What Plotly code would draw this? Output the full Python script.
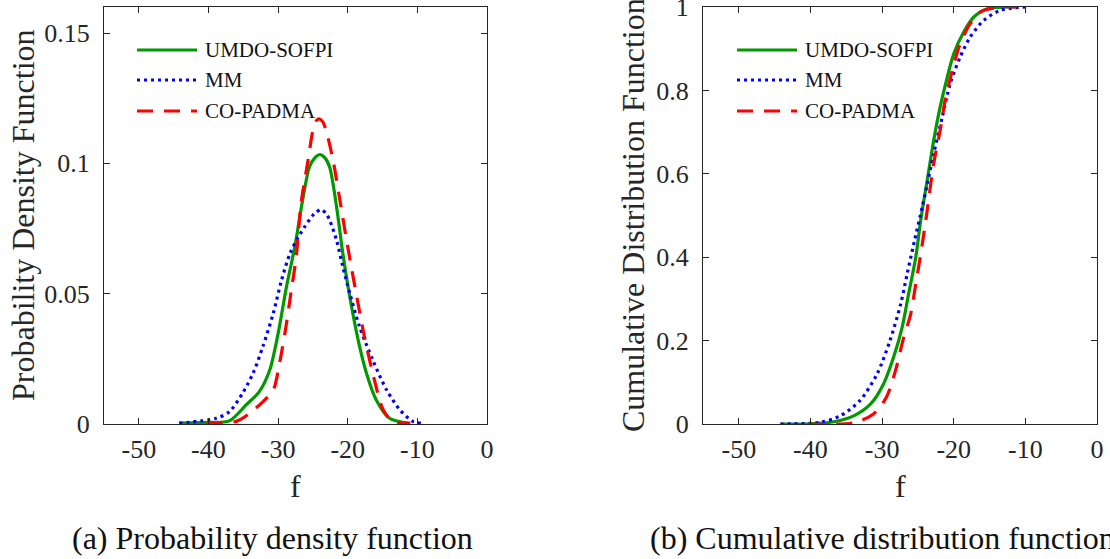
import plotly.graph_objects as go

# ---- probability density estimates ----
pdf_f_umdo = [-44.2, -40.0, -37.0, -34.6, -32.7, -31.2, -30.0, -28.8, -27.6, -26.4, -25.5, -24.7,
              -24.0, -23.3, -22.6, -21.6, -20.7, -19.7, -18.5, -17.3, -15.9, -14.0, -11.1]
pdf_umdo = [0.0003, 0.0006, 0.0012, 0.0073, 0.0124, 0.0207, 0.0347, 0.0526, 0.068, 0.0871, 0.0986, 0.1022,
            0.1034, 0.1022, 0.0986, 0.0833, 0.0654, 0.0488, 0.0322, 0.0194, 0.0092, 0.0022, 0.0003]

pdf_f_mm = [-44.2, -38.9, -37.0, -35.1, -33.6, -32.2, -30.7, -29.5, -28.3, -27.1, -26.2, -25.0, -24.5,
            -23.8, -23.1, -22.6, -21.6, -20.7, -19.7, -18.3, -16.4, -14.4, -12.5, -10.6, -9.4]
pdf_mm = [0.0003, 0.0022, 0.0047, 0.0118, 0.0194, 0.0296, 0.0424, 0.0552, 0.0654, 0.0718, 0.0756, 0.0801, 0.0813,
          0.0823, 0.0807, 0.0782, 0.0705, 0.0603, 0.0501, 0.0373, 0.0245, 0.013, 0.0054, 0.0009, 0.0003]

pdf_f_co = [-40.3, -36.0, -34.1, -32.2, -30.7, -29.8, -28.8, -28.1, -27.4, -26.7, -25.7, -25.0, -24.5,
            -24.1, -23.6, -23.1, -22.1, -21.2, -20.0, -18.7, -17.6, -16.4, -14.9, -13.5, -11.0]
pdf_co = [0.0003, 0.001, 0.0041, 0.0085, 0.013, 0.0232, 0.0386, 0.0513, 0.0641, 0.0846, 0.1011, 0.1126, 0.1164,
          0.1171, 0.116, 0.1126, 0.1011, 0.0871, 0.068, 0.0488, 0.0335, 0.0194, 0.0054, 0.001, 0.0003]

# ---- cumulative distribution estimates ----
cdf_f_umdo = [-44.2, -40.0, -36.7, -33.9, -31.6, -29.8, -28.4, -27.2, -26.3, -25.3, -24.6,
              -23.7, -22.8, -21.9, -20.9, -20.0, -18.6, -17.2, -15.3, -12.6, -11.2]
cdf_umdo = [0.0, 0.0005, 0.0055, 0.02, 0.048, 0.096, 0.16, 0.232, 0.312, 0.40, 0.49,
            0.584, 0.68, 0.76, 0.832, 0.888, 0.94, 0.976, 0.996, 1.0, 1.0]

cdf_f_mm = [-44.2, -38.6, -35.8, -33.1, -30.7, -28.9, -27.4, -26.5, -25.6, -24.4, -23.7,
            -22.8, -21.6, -20.5, -19.1, -17.7, -15.8, -13.5, -10.0]
cdf_mm = [0.0, 0.004, 0.02, 0.056, 0.12, 0.2, 0.288, 0.36, 0.43, 0.52, 0.575,
          0.648, 0.736, 0.816, 0.88, 0.928, 0.968, 0.992, 1.0]

cdf_f_co = [-40.2, -33.9, -31.2, -29.4, -28.0, -27.1, -26.0, -25.3, -24.6, -23.9, -22.8,
            -21.9, -21.2, -20.2, -19.1, -17.7, -16.3, -13.5, -11.2]
cdf_co = [0.0, 0.003, 0.024, 0.064, 0.136, 0.2, 0.264, 0.336, 0.408, 0.488, 0.624,
          0.704, 0.776, 0.848, 0.912, 0.96, 0.988, 1.0, 1.0]

series_names = ["UMDO-SOFPI", "MM", "CO-PADMA"]

# ---- tick labels ----
x_tickvals = [-50, -40, -30, -20, -10, 0]
x_ticktext = ["-50", "-40", "-30", "-20", "-10", "0"]
pdf_tickvals = [0, 0.05, 0.1, 0.15]
pdf_ticktext = ["0", "0.05", "0.1", "0.15"]
cdf_tickvals = [0, 0.2, 0.4, 0.6, 0.8, 1.0]
cdf_ticktext = ["0", "0.2", "0.4", "0.6", "0.8", "1"]

W, H = 1110, 559
SERIF = "Liberation Serif, Times New Roman, Times, serif"
INK = "#262626"

GREEN = "#009a00"
BLUE = "#0000ff"
RED = "#ff0000"
styles = [
    dict(color=GREEN, width=3.2, dash="solid"),
    dict(color=BLUE, width=3.2, dash="3px,4px"),
    dict(color=RED, width=3.2, dash="16px,11px"),
]


def fx(px):
    return px / W


def fy(py):
    return 1 - py / H


fig = go.Figure()

pdf_sets = [(pdf_f_umdo, pdf_umdo), (pdf_f_mm, pdf_mm), (pdf_f_co, pdf_co)]
cdf_sets = [(cdf_f_umdo, cdf_umdo), (cdf_f_mm, cdf_mm), (cdf_f_co, cdf_co)]

for name, (xs, ys), st in zip(series_names, pdf_sets, styles):
    fig.add_trace(go.Scatter(x=xs, y=ys, name=name, mode="lines", showlegend=False,
                             line=dict(shape="spline", smoothing=0.8, **st),
                             xaxis="x", yaxis="y"))
for name, (xs, ys), st in zip(series_names, cdf_sets, styles):
    fig.add_trace(go.Scatter(x=xs, y=ys, name=name, mode="lines", showlegend=False,
                             line=dict(shape="spline", smoothing=0.8, **st),
                             xaxis="x2", yaxis="y2"))

axis_common = dict(
    showline=True, linecolor=INK, linewidth=1, mirror="ticks",
    ticks="inside", ticklen=6, tickcolor=INK, tickwidth=1,
    showgrid=False, zeroline=False, automargin=False,
    ticklabeloverflow="allow",
    tickfont=dict(family=SERIF, size=26, color=INK),
)

y_dom = [fy(424), fy(7)]
fig.update_layout(
    width=W, height=H, autosize=False,
    margin=dict(l=0, r=0, t=0, b=0, pad=0, autoexpand=False),
    paper_bgcolor="white", plot_bgcolor="white",
    showlegend=False,
    xaxis=dict(domain=[fx(104), fx(487)], range=[-55, 0], anchor="y",
               tickvals=x_tickvals, ticktext=x_ticktext, ticklabelstandoff=2, **axis_common),
    yaxis=dict(domain=y_dom, range=[0, 0.16], anchor="x",
               tickvals=pdf_tickvals, ticktext=pdf_ticktext, ticklabelstandoff=8, **axis_common),
    xaxis2=dict(domain=[fx(703), fx(1097)], range=[-55, 0], anchor="y2",
                tickvals=x_tickvals, ticktext=x_ticktext, ticklabelstandoff=2, **axis_common),
    yaxis2=dict(domain=y_dom, range=[0, 1], anchor="x2",
                tickvals=cdf_tickvals, ticktext=cdf_ticktext, ticklabelstandoff=8, **axis_common),
)

annotations = []
shapes = []

# axis titles
title_font = dict(family=SERIF, size=32, color=INK)
for xc in (295, 900):
    annotations.append(dict(text="f", x=fx(xc), y=fy(486), xref="paper", yref="paper",
                            xanchor="center", yanchor="middle", showarrow=False, font=title_font))
annotations.append(dict(text="Probability Density Function", x=fx(23), y=fy(215),
                        xref="paper", yref="paper", xanchor="center", yanchor="middle",
                        textangle=-90, showarrow=False, font=title_font))
annotations.append(dict(text="Cumulative Distribution Function", x=fx(633), y=fy(215),
                        xref="paper", yref="paper", xanchor="center", yanchor="middle",
                        textangle=-90, showarrow=False, font=title_font))

# panel captions
cap_font = dict(family=SERIF, size=32, color="#111111")
annotations.append(dict(text="(a) Probability density function", x=fx(70), y=fy(538),
                        xref="paper", yref="paper", xanchor="left", yanchor="middle",
                        showarrow=False, font=cap_font))
annotations.append(dict(text="(b) Cumulative distribution function", x=fx(648), y=fy(538),
                        xref="paper", yref="paper", xanchor="left", yanchor="middle",
                        showarrow=False, font=cap_font))

# legends drawn in the upper-left corner of each panel
leg_font = dict(family=SERIF, size=21, color="#111111")
row_y = [50, 80, 111]
for x0 in (137, 737):
    for name, st, ry in zip(series_names, styles, row_y):
        shapes.append(dict(type="line", xref="paper", yref="paper",
                           x0=fx(x0), x1=fx(x0 + 60), y0=fy(ry), y1=fy(ry),
                           line=dict(color=st["color"], width=st["width"], dash=st["dash"])))
        annotations.append(dict(text=name, x=fx(x0 + 66), y=fy(ry), xref="paper", yref="paper",
                                xanchor="left", yanchor="middle", showarrow=False, font=leg_font))

fig.update_layout(annotations=annotations, shapes=shapes)

fig.write_html("out.html",
               post_script="document.body.style.margin='0';document.body.style.overflow='hidden';")
